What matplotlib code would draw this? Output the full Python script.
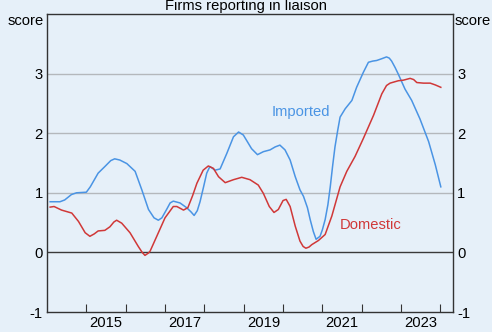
import matplotlib
matplotlib.use('Agg')
import matplotlib.pyplot as plt

# Firms reporting in liaison: price scores for imported and domestic inputs
imported_dates = [2014.08, 2014.33, 2014.45, 2014.62, 2014.75, 2015.00, 2015.10, 2015.30,
                  2015.47, 2015.62, 2015.72, 2015.85, 2016.03, 2016.24, 2016.41, 2016.58,
                  2016.72, 2016.83, 2016.92, 2017.04, 2017.13, 2017.21, 2017.38, 2017.55,
                  2017.66, 2017.74, 2017.82, 2017.89, 2017.98, 2018.06, 2018.14, 2018.27,
                  2018.40, 2018.57, 2018.74, 2018.87, 2018.99, 2019.10, 2019.20, 2019.35,
                  2019.50, 2019.67, 2019.80, 2019.92, 2020.05, 2020.18, 2020.31, 2020.43,
                  2020.52, 2020.62, 2020.69, 2020.77, 2020.84, 2020.94, 2021.00, 2021.07,
                  2021.14, 2021.20, 2021.26, 2021.32, 2021.39, 2021.45, 2021.58, 2021.75,
                  2021.87, 2022.04, 2022.17, 2022.28, 2022.38, 2022.51, 2022.63, 2022.70,
                  2022.76, 2022.85, 2022.93, 2023.10, 2023.27, 2023.48, 2023.70, 2023.87,
                  2024.01]
imported = [0.85, 0.85, 0.88, 0.97, 1.00, 1.01, 1.10, 1.33,
            1.44, 1.54, 1.57, 1.55, 1.49, 1.36, 1.05, 0.72,
            0.58, 0.54, 0.58, 0.72, 0.83, 0.86, 0.83, 0.75,
            0.68, 0.62, 0.70, 0.85, 1.10, 1.33, 1.44, 1.38,
            1.40, 1.66, 1.94, 2.02, 1.97, 1.85, 1.74, 1.64,
            1.69, 1.72, 1.77, 1.80, 1.72, 1.55, 1.27, 1.05,
            0.94, 0.75, 0.55, 0.35, 0.22, 0.27, 0.38, 0.55,
            0.80, 1.10, 1.45, 1.77, 2.05, 2.27, 2.41, 2.55,
            2.77, 3.02, 3.19, 3.21, 3.22, 3.25, 3.28, 3.26,
            3.21, 3.10, 2.99, 2.74, 2.55, 2.24, 1.86, 1.47,
            1.10]

domestic_dates = [2014.08, 2014.18, 2014.37, 2014.63, 2014.80, 2014.97, 2015.09, 2015.20,
                  2015.30, 2015.47, 2015.60, 2015.70, 2015.77, 2015.90, 2016.11, 2016.32,
                  2016.42, 2016.49, 2016.58, 2016.62, 2016.79, 2017.00, 2017.21, 2017.30,
                  2017.47, 2017.58, 2017.70, 2017.81, 2017.97, 2018.10, 2018.23, 2018.36,
                  2018.53, 2018.74, 2018.95, 2019.16, 2019.37, 2019.50, 2019.65, 2019.77,
                  2019.88, 2020.00, 2020.08, 2020.18, 2020.31, 2020.43, 2020.51, 2020.58,
                  2020.66, 2020.73, 2020.90, 2021.07, 2021.24, 2021.45, 2021.62, 2021.83,
                  2022.04, 2022.30, 2022.51, 2022.63, 2022.72, 2022.93, 2023.06, 2023.23,
                  2023.32, 2023.40, 2023.57, 2023.74, 2023.87, 2024.01]
domestic = [0.76, 0.77, 0.71, 0.66, 0.52, 0.33, 0.27, 0.31,
            0.36, 0.37, 0.43, 0.51, 0.54, 0.49, 0.33, 0.10,
            0.00, -0.05, -0.01, 0.02, 0.27, 0.58, 0.77, 0.77,
            0.71, 0.75, 0.95, 1.16, 1.38, 1.45, 1.41, 1.27,
            1.17, 1.22, 1.26, 1.22, 1.13, 0.99, 0.77, 0.67,
            0.72, 0.87, 0.89, 0.77, 0.44, 0.19, 0.10, 0.07,
            0.09, 0.13, 0.20, 0.30, 0.61, 1.10, 1.36, 1.61,
            1.91, 2.30, 2.66, 2.80, 2.84, 2.88, 2.89, 2.92,
            2.90, 2.85, 2.84, 2.84, 2.81, 2.77]

year_ticks = list(range(2015, 2025))
year_labels = ['2015', '2017', '2019', '2021', '2023']
y_ticks = [-1, 0, 1, 2, 3]

BG = '#e6f0f9'
BLUE = '#4a94e4'
RED = '#d03838'
FS = 10.6

plt.rcParams['font.family'] = ['Liberation Sans', 'DejaVu Sans']

fig = plt.figure(figsize=(4.92, 3.32), dpi=100, facecolor=BG)
ax = fig.add_axes([47/492, 20/332, 406/492, 298/332], facecolor=BG)

ax.set_xlim(2014.0, 2024.32)
ax.set_ylim(-1, 4)

# gridlines and zero line
for v in [1, 2, 3]:
    ax.axhline(v, color='#b4b8bc', lw=1.0, zorder=1)
ax.axhline(0, color='#3a3a3a', lw=1.0, zorder=1)

ax.plot(imported_dates, imported, color=BLUE, lw=1.1, zorder=3)
ax.plot(domestic_dates, domestic, color=RED, lw=1.1, zorder=3)

# series names sit next to their lines
fig.text(301/492, 1 - 112/332, 'Imported', color=BLUE, fontsize=FS,
         ha='center', va='center')
fig.text(371/492, 1 - 225/332, 'Domestic', color=RED, fontsize=FS,
         ha='center', va='center')

for s in ax.spines.values():
    s.set_color('#333333')
    s.set_linewidth(1.0)

# x axis: year boundary ticks pointing in, labels centred on odd years
ax.set_xticks(year_ticks)
ax.set_xticklabels([])
ax.tick_params(axis='x', which='major', direction='in', length=6, color='#333333')
ax.set_xticks([int(y) + 0.5 for y in year_labels], minor=True)
ax.set_xticklabels(year_labels, minor=True)
ax.tick_params(axis='x', which='minor', length=0, pad=3, labelsize=FS)

# y axis labelled on both sides
ax.set_yticks(y_ticks)
ax.set_yticklabels([str(v) for v in y_ticks])
ax.tick_params(axis='y', length=0, pad=3, labelsize=FS, labelright=True, right=True)

fig.text(44/492, 1 - 25/332, 'score', fontsize=FS, ha='right', va='baseline')
fig.text(455/492, 1 - 25/332, 'score', fontsize=FS, ha='left', va='baseline')
fig.text(0.5, 1 - 10/332, 'Firms reporting in liaison', fontsize=FS, ha='center',
         va='baseline')

fig.savefig('out.png', dpi=100, facecolor=BG)
